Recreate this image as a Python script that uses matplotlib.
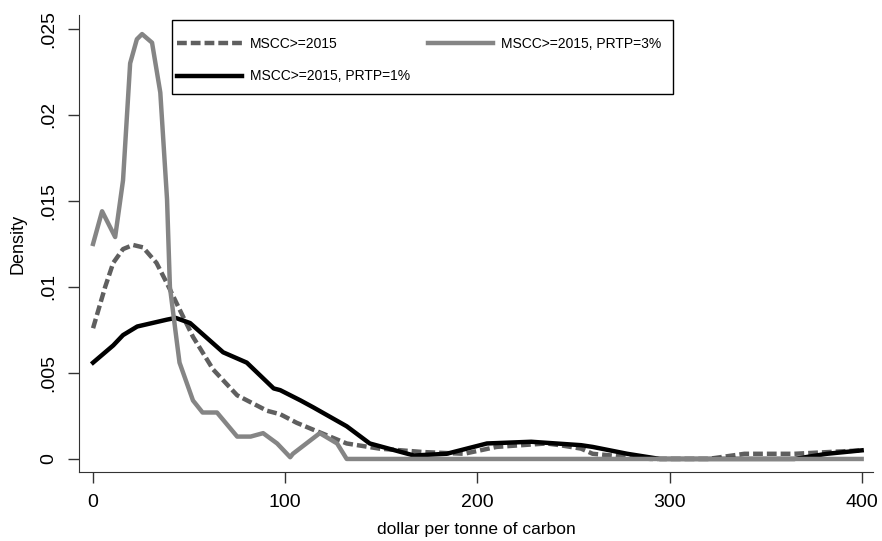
import matplotlib.pyplot as plt
from matplotlib.patches import Rectangle

plt.rcParams['font.family'] = ['Liberation Sans', 'DejaVu Sans']

# MSCC>=2015 (dashed)
x_all = [0, 6.3, 10.5, 15.6, 20.8, 26, 33, 38.5, 45, 52, 62.5, 75, 90.6, 97.4, 106,
         114.6, 132, 149, 172, 193, 210, 236, 243, 254, 260, 290, 320, 339, 365, 400]
y_all = [0.0076, 0.0100, 0.0114, 0.0122, 0.01244, 0.0123, 0.0114, 0.0102, 0.0087, 0.0071,
         0.0052, 0.0037, 0.0028, 0.0026, 0.0021, 0.0017, 0.0009, 0.0006, 0.0004, 0.0003,
         0.0007, 0.0009, 0.0008, 0.0006, 0.0003, 0.0, 0.0, 0.0003, 0.0003, 0.0005]

# MSCC>=2015, PRTP=1% (black)
x_p1 = [0, 10.5, 15.6, 23, 38.5, 43, 50.5, 67.7, 80, 94, 97.4, 108, 114.6, 132, 144,
        167, 184, 205, 228, 254, 260, 278, 295, 365, 382, 400]
y_p1 = [0.0056, 0.0066, 0.0072, 0.0077, 0.0081, 0.0082, 0.0079, 0.0062, 0.0056, 0.0041,
        0.0040, 0.0034, 0.0030, 0.0019, 0.0009, 0.0002, 0.0003, 0.0009, 0.0010, 0.0008,
        0.0007, 0.0003, 0.0, 0.0, 0.0003, 0.0005]

# MSCC>=2015, PRTP=3% (grey)
x_p3 = [0, 4.7, 11.5, 15.6, 19.3, 22.8, 25.5, 30.7, 35, 38.5, 40, 43.5, 45, 52, 57,
        64.5, 75, 82, 88.5, 95.8, 102.6, 104, 118, 127, 132, 400]
y_p3 = [0.0125, 0.0144, 0.0129, 0.0162, 0.0230, 0.0244, 0.0247, 0.0242, 0.0213, 0.0151,
        0.0100, 0.0069, 0.0056, 0.0034, 0.0027, 0.0027, 0.0013, 0.0013, 0.0015, 0.0009,
        0.0001, 0.0003, 0.0015, 0.0009, 0.0, 0.0]

fig = plt.figure(figsize=(8.82, 5.41), dpi=100)
ax = fig.add_axes([0.0896, 0.1275, 0.9004, 0.8445])

ax.plot(x_all, y_all, color='#5f5f5f', lw=3.2, ls=(0, (2.2, 0.9)), label='MSCC>=2015')
ax.plot(x_p1, y_p1, color='black', lw=3.2, label='MSCC>=2015, PRTP=1%')
ax.plot(x_p3, y_p3, color='#858585', lw=3.2, label='MSCC>=2015, PRTP=3%')

ax.set_xlim(-7.3, 406)
ax.set_ylim(-0.00076, 0.0258)
ax.set_xticks([0, 100, 200, 300, 400])
ax.set_yticks([0, 0.005, 0.01, 0.015, 0.02, 0.025])
ax.set_yticklabels(['0', '.005', '.01', '.015', '.02', '.025'], rotation=90, va='center')
ax.tick_params(axis='both', labelsize=14, length=8, width=1, color='#333333')
ax.tick_params(axis='x', pad=7.5)
ax.tick_params(axis='y', pad=8)
ax.spines['top'].set_visible(False)
ax.spines['right'].set_visible(False)
for s in ['left', 'bottom']:
    ax.spines[s].set_color('#333333')

ax.set_xlabel('dollar per tonne of carbon', fontsize=12.5, labelpad=8)
ax.set_ylabel('Density', fontsize=13, labelpad=9.5)

# legend frame drawn by hand so the padding matches
ax.add_patch(Rectangle((0.1171, 0.8271), 0.631, 0.1619, transform=ax.transAxes,
                       facecolor='white', edgecolor='black', lw=1, zorder=4))
leg = ax.legend(ncol=2, loc='upper left', bbox_to_anchor=(0.1234, 0.953, 0.6097, 0.0),
                mode='expand', fontsize=10, handlelength=4.7, handletextpad=0.55,
                frameon=False, borderaxespad=0, borderpad=0, labelspacing=1.35)
leg.set_zorder(5)

fig.savefig('out.png', dpi=100)
